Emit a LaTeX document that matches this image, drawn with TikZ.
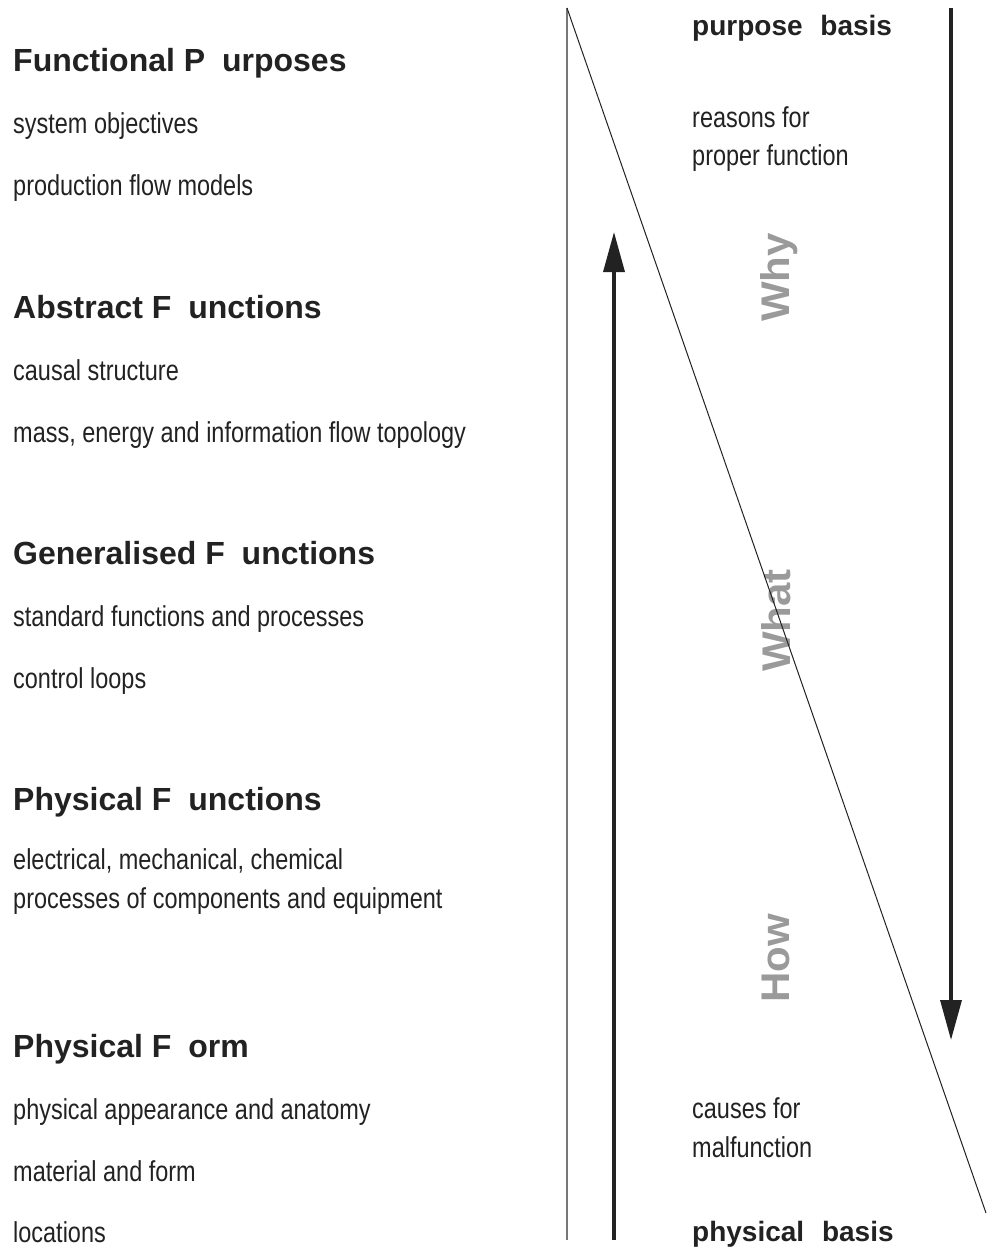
\documentclass[tikz,border=0pt]{standalone}
\usepackage{fontspec}
\usetikzlibrary{arrows.meta}
\newfontfamily\bodyf[FakeStretch=0.815]{Liberation Sans}
\newfontfamily\headf{Liberation Sans}
\newfontfamily\sidef[FakeStretch=1.05]{Liberation Sans}
\definecolor{ink}{HTML}{222222}
\definecolor{lbl}{HTML}{9A9A9A}
\definecolor{rule}{HTML}{777777}
\tikzset{
  body/.style={anchor=base west, inner sep=0pt, text=ink, font=\bodyf\fontsize{28.8}{34}\selectfont},
  head/.style={anchor=base west, inner sep=0pt, text=ink, font=\headf\bfseries\fontsize{32}{38}\selectfont},
  basis/.style={anchor=base west, inner sep=0pt, text=ink, font=\headf\bfseries\fontsize{28}{33}\selectfont},
  axis/.style={anchor=base west, inner sep=0pt, rotate=90, text=lbl, font=\sidef\bfseries\fontsize{40}{46}\selectfont},
  thick arrow/.style={line width=3.5pt, draw=ink, -{Triangle[length=40pt,width=21pt]}},
}
\begin{document}
\begin{tikzpicture}[x=1pt,y=-1pt]
\useasboundingbox (0,0) rectangle (986,1247);
% left column
\node[head] (h1) at (13,71) {Functional P \kern8pt urposes};
\node[body] (h1a) at (13,133) {system objectives};
\node[body] (h1b) at (13,195) {production flow models};
\node[head] (h2) at (13,318) {Abstract F \kern8pt unctions};
\node[body] (h2a) at (13,380) {causal structure};
\node[body] (h2b) at (13,442) {mass, energy and information flow topology};
\node[head] (h3) at (13,564) {Generalised F \kern8pt unctions};
\node[body] (h3a) at (13,626) {standard functions and processes};
\node[body] (h3b) at (13,688) {control loops};
\node[head] (h4) at (13,810) {Physical F \kern8pt unctions};
\node[body] (h4a) at (13,869) {electrical, mechanical, chemical};
\node[body] (h4b) at (13,908) {processes of components and equipment};
\node[head] (h5) at (13,1057) {Physical F \kern8pt orm};
\node[body] (h5a) at (13,1119) {physical appearance and anatomy};
\node[body] (h5b) at (13,1181) {material and form};
\node[body] (h5c) at (13,1242) {locations};
% right column
\node[basis] (pb) at (692,36) {purpose \kern10pt basis};
\node[body] (r1) at (692,127) {reasons for};
\node[body] (r2) at (692,165) {proper function};
\node[body] (c1) at (692,1118) {causes for};
\node[body] (c2) at (692,1157) {malfunction};
\node[basis] (phb) at (692,1241) {physical \kern10pt basis};
% rotated labels
\node[axis] (why) at (789,322) {Why};
\node[axis] (what) at (790,672) {What};
\node[axis] (how) at (789,1003) {How};
% lines
\coordinate (vt) at (567,8);
\coordinate (vb) at (567,1240);
\coordinate (de) at (986,1213);
\draw[rule, line width=1.2pt] (vt) -- (vb);
\draw[ink, line width=1pt] (vt) -- (de);
\coordinate (ub) at (614,1240);
\coordinate (ut) at (614,232);
\draw[thick arrow] (ub) -- (ut);
\coordinate (dt) at (951,8);
\coordinate (db) at (951,1040);
\draw[thick arrow] (dt) -- (db);
\end{tikzpicture}
\end{document}
